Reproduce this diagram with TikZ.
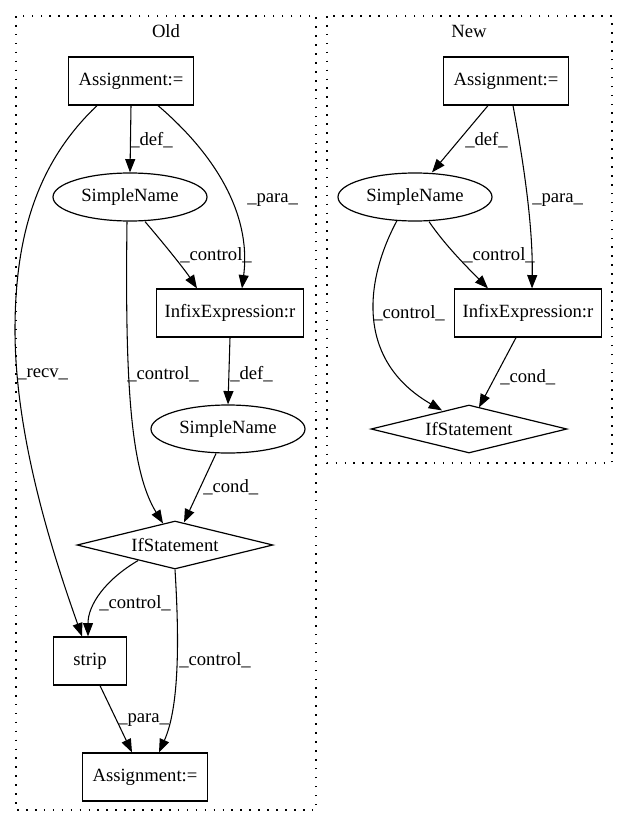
\documentclass[tikz,border=0pt]{standalone}
\usepackage{fontspec}
\setmainfont{Liberation Serif}
\usetikzlibrary{shapes.geometric,arrows.meta,calc}
\begin{document}
\begin{tikzpicture}[x=0.75pt,y=-0.75pt,
  every node/.style={font=\fontsize{14}{16}\selectfont},
  box/.style={draw,line width=0.9pt,rectangle,minimum width=93.75pt,minimum height=36pt,inner sep=0pt},
  ell/.style={draw,line width=0.9pt,ellipse,minimum width=115.5pt,minimum height=36pt,inner sep=0pt},
  dia/.style={draw,line width=0.9pt,diamond,aspect=4.1,minimum width=147pt,minimum height=36pt,inner sep=0pt},
  edge/.style={draw,line width=0.8pt,-{Triangle[length=10pt,width=7.5pt]}},
  lbl/.style={anchor=west,inner sep=0pt},
  cluster/.style={draw,line width=0.9pt,dash pattern=on 1.2pt off 5.5pt}]
\useasboundingbox (0,0) rectangle (628,828);
% clusters
\draw[cluster] (16,16) rectangle (316,810);
\draw[cluster] (327,16) rectangle (612,463);
\node (oldt) at (166,31) {Old};
\node (newt) at (469,31) {New};
% Old nodes
\node[box] (A1) at (131,81) {Assignment:=};
\node[ell] (S1) at (130,197) {SimpleName};
\node[box,minimum width=110pt] (I1) at (230,313) {InfixExpression:r};
\node[ell] (S2) at (228,429) {SimpleName};
\node[dia] (If1) at (175,545) {IfStatement};
\node[box,minimum width=54.75pt] (St) at (90,661) {strip};
\node[box] (A2) at (145,777) {Assignment:=};
% New nodes
\node[box] (A3) at (506,81) {Assignment:=};
\node[ell] (S3) at (415,197) {SimpleName};
\node[box,minimum width=110pt] (I3) at (528,313) {InfixExpression:r};
\node[dia] (If3) at (469,429) {IfStatement};
% Old edges
\draw[edge] (A1.south) -- (S1.north);
\draw[edge] ($(A1.south)+(27,0)$) .. controls (210,150) and (252,210) .. ($(I1.north)+(12,0)$);
\draw[edge] ($(A1.south)+(-34,0)$) .. controls (40,160) and (15,230) .. (15,330) .. controls (15,440) and (55,560) .. ($(St.north)+(-8,0)$);
\draw[edge] ($(S1.south)+(15,0)$) .. controls (165,245) and (185,270) .. ($(I1.north)+(-33,0)$);
\draw[edge] ($(S1.south)+(-3,0)$) .. controls (125,380) and (130,470) .. ($(If1.north)+(-12,3)$);
\draw[edge] (I1.south) -- (S2.north);
\draw[edge] ($(S2.south)+(-12,0)$) -- ($(If1.north)+(9,2)$);
\draw[edge] ($(If1.south)+(-37,-9)$) .. controls (105,580) and (88,605) .. ($(St.north)+(-2,0)$);
\draw[edge] (If1.south) .. controls (180,650) and (178,710) .. ($(A2.north)+(14,0)$);
\draw[edge] ($(St.south)+(10,0)$) -- ($(A2.north)+(-13,0)$);
% New edges
\draw[edge] ($(A3.south)+(-18,0)$) -- ($(S3.north)+(17,0)$);
\draw[edge] ($(A3.south)+(7,0)$) .. controls (525,170) and (533,230) .. ($(I3.north)+(4,0)$);
\draw[edge] ($(S3.south)+(14,0)$) .. controls (445,245) and (465,265) .. ($(I3.north)+(-40,0)$);
\draw[edge] ($(S3.south)+(-18,-1)$) .. controls (365,280) and (355,360) .. ($(If3.north)+(-27,6)$);
\draw[edge] ($(I3.south)+(-12,0)$) -- ($(If3.north)+(10,3)$);
% Old labels
\node[lbl] (l1) at (130,140) {\_def\_};
\node[lbl] (l2) at (247,200) {\_para\_};
\node[lbl] (l3) at (17,374) {\_recv\_};
\node[lbl] (l4) at (180,255) {\_control\_};
\node[lbl] (l5) at (127,374) {\_control\_};
\node[lbl] (l6) at (230,374) {\_def\_};
\node[lbl] (l7) at (203,487) {\_cond\_};
\node[lbl] (l8) at (99,603) {\_control\_};
\node[lbl] (l9) at (179,660) {\_control\_};
\node[lbl] (l10) at (118,720) {\_para\_};
% New labels
\node[lbl] (n1) at (465,140) {\_def\_};
\node[lbl] (n2) at (532,200) {\_para\_};
\node[lbl] (n3) at (463,255) {\_control\_};
\node[lbl] (n4) at (373,313) {\_control\_};
\node[lbl] (n5) at (500,377) {\_cond\_};
\end{tikzpicture}
\end{document}
